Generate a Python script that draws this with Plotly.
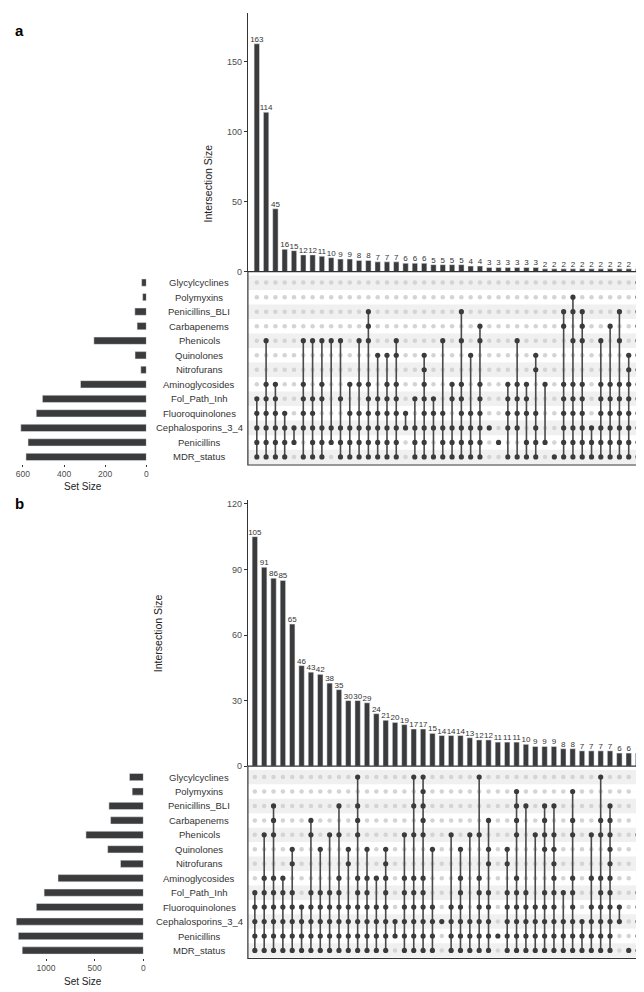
import plotly.graph_objects as go

W, H = 644, 992


def fx(px):
    return px / W


def fy(px):
    return 1 - px / H


sets = ["Glycylcyclines", "Polymyxins", "Penicillins_BLI", "Carbapenems", "Phenicols",
        "Quinolones", "Nitrofurans", "Aminoglycosides", "Fol_Path_Inh", "Fluoroquinolones",
        "Cephalosporins_3_4", "Penicillins", "MDR_status"]

# ---------------- panel a ----------------
a_inter_sizes = [163, 114, 45, 16, 15, 12, 12, 11, 10, 9, 9, 8, 8, 7, 7, 7, 6, 6, 6, 5, 5,
                 5, 5, 4, 4, 3, 3, 3, 3, 3, 3, 2, 2, 2, 2, 2, 2, 2, 2, 2, 2, 2]
a_set_sizes = [23, 18, 56, 45, 255, 55, 27, 320, 505, 535, 610, 575, 585]
a_members = [
    [8, 9, 10, 11, 12], [4, 7, 8, 9, 10, 11, 12], [7, 8, 9, 10, 11, 12], [9, 10, 11, 12],
    [10, 11], [4, 7, 8, 9, 10, 12], [4, 8, 9, 10, 11, 12], [4, 7, 8, 10, 11, 12],
    [4, 10, 11], [4, 8, 10, 11, 12], [7, 9, 10, 11, 12], [4, 7, 9, 10, 11, 12],
    [2, 3, 4, 7, 8, 9, 10, 11, 12], [5, 8, 9, 10, 11, 12], [5, 7, 8, 9, 10, 11, 12],
    [4, 5, 7, 8, 9, 10, 11, 12], [9, 10], [8, 10, 11, 12], [5, 6, 7, 8, 9, 10, 11, 12],
    [8, 9, 10, 12], [4, 9, 10, 11, 12], [7, 8, 10, 11, 12], [2, 4, 7, 8, 9, 10, 11, 12],
    [5, 9, 10, 11, 12], [3, 4, 7, 8, 9, 10, 11, 12], [10], [11], [7, 8, 9, 10, 12],
    [4, 7, 8, 9, 10, 12], [7, 8, 9, 11, 12], [5, 6, 9, 10, 11, 12], [7, 11], [12],
    [2, 3, 7, 8, 9, 10, 11, 12], [1, 2, 4, 7, 8, 9, 10, 11, 12],
    [2, 3, 4, 7, 8, 9, 10, 11, 12], [10, 11, 12], [4, 7, 8, 9, 10, 11, 12],
    [3, 7, 8, 9, 10, 11, 12], [2, 4, 7, 8, 9, 10, 11, 12], [5, 6, 7, 8, 9, 10, 11, 12],
    [0, 1, 2, 3, 4, 5, 6, 7, 8, 9, 10, 11, 12],
]
a_inter_ticks = [0, 50, 100, 150]
a_set_ticks = [0, 200, 400, 600]

# ---------------- panel b ----------------
b_inter_sizes = [105, 91, 86, 85, 65, 46, 43, 42, 38, 35, 30, 30, 29, 24, 21, 20, 19, 17, 17,
                 15, 14, 14, 14, 13, 12, 12, 11, 11, 11, 10, 9, 9, 9, 8, 8, 7, 7, 7, 7, 6, 6, 6]
b_set_sizes = [143, 115, 354, 337, 590, 367, 235, 877, 1020, 1100, 1306, 1285, 1245]
b_members = [
    [8, 9, 10, 11, 12], [4, 7, 8, 9, 10, 11, 12], [2, 3, 4, 7, 8, 9, 10, 11, 12],
    [7, 8, 9, 10, 11, 12], [5, 6, 8, 9, 10, 11, 12], [9, 10, 11, 12],
    [3, 4, 8, 9, 10, 11, 12], [5, 8, 9, 10, 11, 12], [4, 8, 9, 10, 11, 12],
    [2, 4, 7, 8, 9, 10, 11, 12], [5, 6, 9, 10, 11, 12], [0, 2, 3, 4, 7, 8, 9, 10, 11, 12],
    [5, 7, 8, 9, 10, 11, 12], [7, 9, 10, 11, 12], [5, 6, 7, 8, 9, 10, 11, 12], [10, 11],
    [4, 7, 8, 9, 10, 11, 12], [0, 2, 4, 7, 8, 9, 10, 11, 12],
    [0, 1, 2, 3, 4, 7, 8, 9, 10, 11, 12], [5, 9, 10, 11, 12], [10], [4, 9, 10, 11, 12],
    [5, 7, 8, 9, 10, 11, 12], [4, 10, 11, 12], [0, 4, 7, 8, 9, 10, 11, 12],
    [3, 5, 6, 8, 9, 10, 11, 12], [11], [5, 6, 8, 9, 10, 11, 12],
    [1, 2, 3, 4, 7, 8, 9, 10, 11, 12], [2, 8, 9, 10, 11, 12], [4, 9, 10, 11, 12],
    [2, 3, 4, 5, 8, 9, 10, 11, 12], [2, 4, 5, 6, 7, 8, 9, 10, 11, 12], [8, 10, 11, 12],
    [1, 3, 4, 7, 8, 9, 10, 11, 12], [10, 11, 12], [4, 7, 9, 10, 11, 12],
    [0, 3, 4, 7, 8, 9, 10, 11, 12], [2, 3, 4, 5, 6, 7, 8, 9, 10, 11, 12], [9, 10], [12],
    [4, 8, 9, 10, 11, 12],
]
b_inter_ticks = [0, 30, 60, 90, 120]
b_set_ticks = [0, 500, 1000]

DARK = "#3b3b3b"
LIGHT = "#d4d4d4"
STRIPE = "#f0f0f0"
TXT = "#4d4d4d"
FONT = "Liberation Sans, Arial, sans-serif"

fig = go.Figure()
layout = dict(width=W, height=H, margin=dict(l=0, r=0, t=0, b=0),
              paper_bgcolor="white", plot_bgcolor="white", showlegend=False,
              font=dict(family=FONT, color=TXT))
shapes = []
annotations = []

panels = [
    dict(sizes=a_inter_sizes, setsz=a_set_sizes, mem=a_members, iticks=a_inter_ticks,
         sticks=a_set_ticks, top=5, base=265, mtop=268.7, mbot=458.5, xr=[-0.96, 41.86],
         yr=185, sleft=4.6, sright=139, srange=650, letter="a", ly=12, tx=193,
         stitle_y=481, n=1),
    dict(sizes=b_inter_sizes, setsz=b_set_sizes, mem=b_members, iticks=b_inter_ticks,
         sticks=b_set_ticks, top=494, base=762, mtop=765.7, mbot=954.5, xr=[-0.745, 41.85],
         yr=122, sleft=4, sright=136, srange=1350, letter="b", ly=498, tx=143,
         stitle_y=978, n=4),
]


def key(name):
    if name == "x":
        return "xaxis"
    if name == "y":
        return "yaxis"
    return name.replace("x", "xaxis").replace("y", "yaxis")


for p in panels:
    n = p["n"]
    xb, yb = ("x", "y") if n == 1 else (f"x{n}", f"y{n}")
    xm, ym = f"x{n + 1}", f"y{n + 1}"
    xs, ys = f"x{n + 2}", f"y{n + 2}"
    ncol = len(p["sizes"])
    cols = list(range(ncol))

    # intersection bars
    fig.add_trace(go.Bar(x=cols, y=p["sizes"], xaxis=xb, yaxis=yb, marker_color=DARK,
                         width=0.58, hoverinfo="skip"))
    fig.add_trace(go.Scatter(x=cols, y=p["sizes"], xaxis=xb, yaxis=yb, mode="text",
                             text=[str(v) for v in p["sizes"]], textposition="top center",
                             textfont=dict(size=8, color="#333333", family=FONT),
                             cliponaxis=False, hoverinfo="skip"))

    # matrix
    inx, iny, ax, ay, lx, ly = [], [], [], [], [], []
    for c, mem in enumerate(p["mem"]):
        for r in range(len(sets)):
            if r in mem:
                ax.append(c)
                ay.append(r)
            else:
                inx.append(c)
                iny.append(r)
        if len(mem) > 1:
            lx += [c, c, None]
            ly += [min(mem), max(mem), None]
    fig.add_trace(go.Scatter(x=inx, y=iny, xaxis=xm, yaxis=ym, mode="markers",
                             marker=dict(size=4.5, color=LIGHT), hoverinfo="skip"))
    fig.add_trace(go.Scatter(x=lx, y=ly, xaxis=xm, yaxis=ym, mode="lines",
                             line=dict(color="#4a4a4a", width=1.6), hoverinfo="skip"))
    fig.add_trace(go.Scatter(x=ax, y=ay, xaxis=xm, yaxis=ym, mode="markers",
                             marker=dict(size=5.2, color=DARK), hoverinfo="skip"))

    # set size bars
    fig.add_trace(go.Bar(x=p["setsz"], y=list(range(len(sets))), orientation="h",
                         xaxis=xs, yaxis=ys, marker_color=DARK, width=0.5,
                         hoverinfo="skip"))

    layout[key(xb)] = dict(domain=[fx(241), fx(641)], range=p["xr"], visible=False,
                           anchor=yb)
    layout[key(yb)] = dict(domain=[fy(p["base"]), fy(p["top"])], range=[0, p["yr"]],
                           anchor=xb, tickvals=p["iticks"], ticks="outside", ticklen=3,
                           tickcolor="#333333", showline=True, linecolor="#333333",
                           linewidth=1, showgrid=False, zeroline=False,
                           tickfont=dict(size=9, color=TXT, family=FONT))
    layout[key(xm)] = dict(domain=[fx(241), fx(641)], range=p["xr"], visible=False,
                           anchor=ym)
    layout[key(ym)] = dict(domain=[fy(p["mbot"]), fy(p["mtop"])], range=[12.5, -0.5],
                           visible=False, anchor=xm)
    layout[key(xs)] = dict(domain=[fx(p["sleft"]), fx(p["sright"])],
                           range=[p["srange"], 0], anchor=ys, tickvals=p["sticks"],
                           ticks="outside", ticklen=2, tickcolor="#333333", showline=False,
                           showgrid=False, zeroline=False,
                           tickfont=dict(size=8.5, color=TXT, family=FONT))
    layout[key(ys)] = dict(domain=[fy(p["mbot"]), fy(p["mtop"])], range=[12.5, -0.5],
                           visible=False, anchor=xs)

    # stripes
    for r in range(0, len(sets), 2):
        shapes.append(dict(type="rect", xref=f"{xm} domain", yref=ym, x0=0, x1=1,
                           y0=r - 0.5, y1=r + 0.5, fillcolor=STRIPE, line_width=0,
                           layer="below"))
    # matrix frame
    shapes.append(dict(type="rect", xref="paper", yref="paper", x0=fx(241), x1=fx(641),
                       y0=fy(p["mbot"] + 0.8), y1=fy(p["base"]),
                       line=dict(color="#333333", width=1.2), fillcolor="rgba(0,0,0,0)",
                       layer="above"))

    # set names
    for r, s in enumerate(sets):
        annotations.append(dict(text=s, xref="paper", yref=ym, x=fx(192), y=r,
                                showarrow=False, xanchor="center", yanchor="middle",
                                font=dict(size=9.5, color="#333333", family=FONT)))
    annotations.append(dict(text="Intersection Size", xref="paper", yref="paper",
                            x=fx(p["tx"]), y=fy((p["top"] + p["base"]) / 2),
                            textangle=-90, showarrow=False,
                            font=dict(size=10.5, color="#222222", family=FONT)))
    annotations.append(dict(text="Set Size", xref="paper", yref="paper", x=fx(55),
                            y=fy(p["stitle_y"]), showarrow=False, borderpad=0,
                            yanchor="middle",
                            font=dict(size=10, color="#222222", family=FONT)))
    annotations.append(dict(text="<b>" + p["letter"] + "</b>", xref="paper", yref="paper",
                            x=fx(5), y=fy(p["ly"]), xanchor="left", showarrow=False,
                            font=dict(size=15, color="black", family=FONT)))

layout["shapes"] = shapes
layout["annotations"] = annotations
fig.update_layout(**layout)
fig.write_html("out.html")
